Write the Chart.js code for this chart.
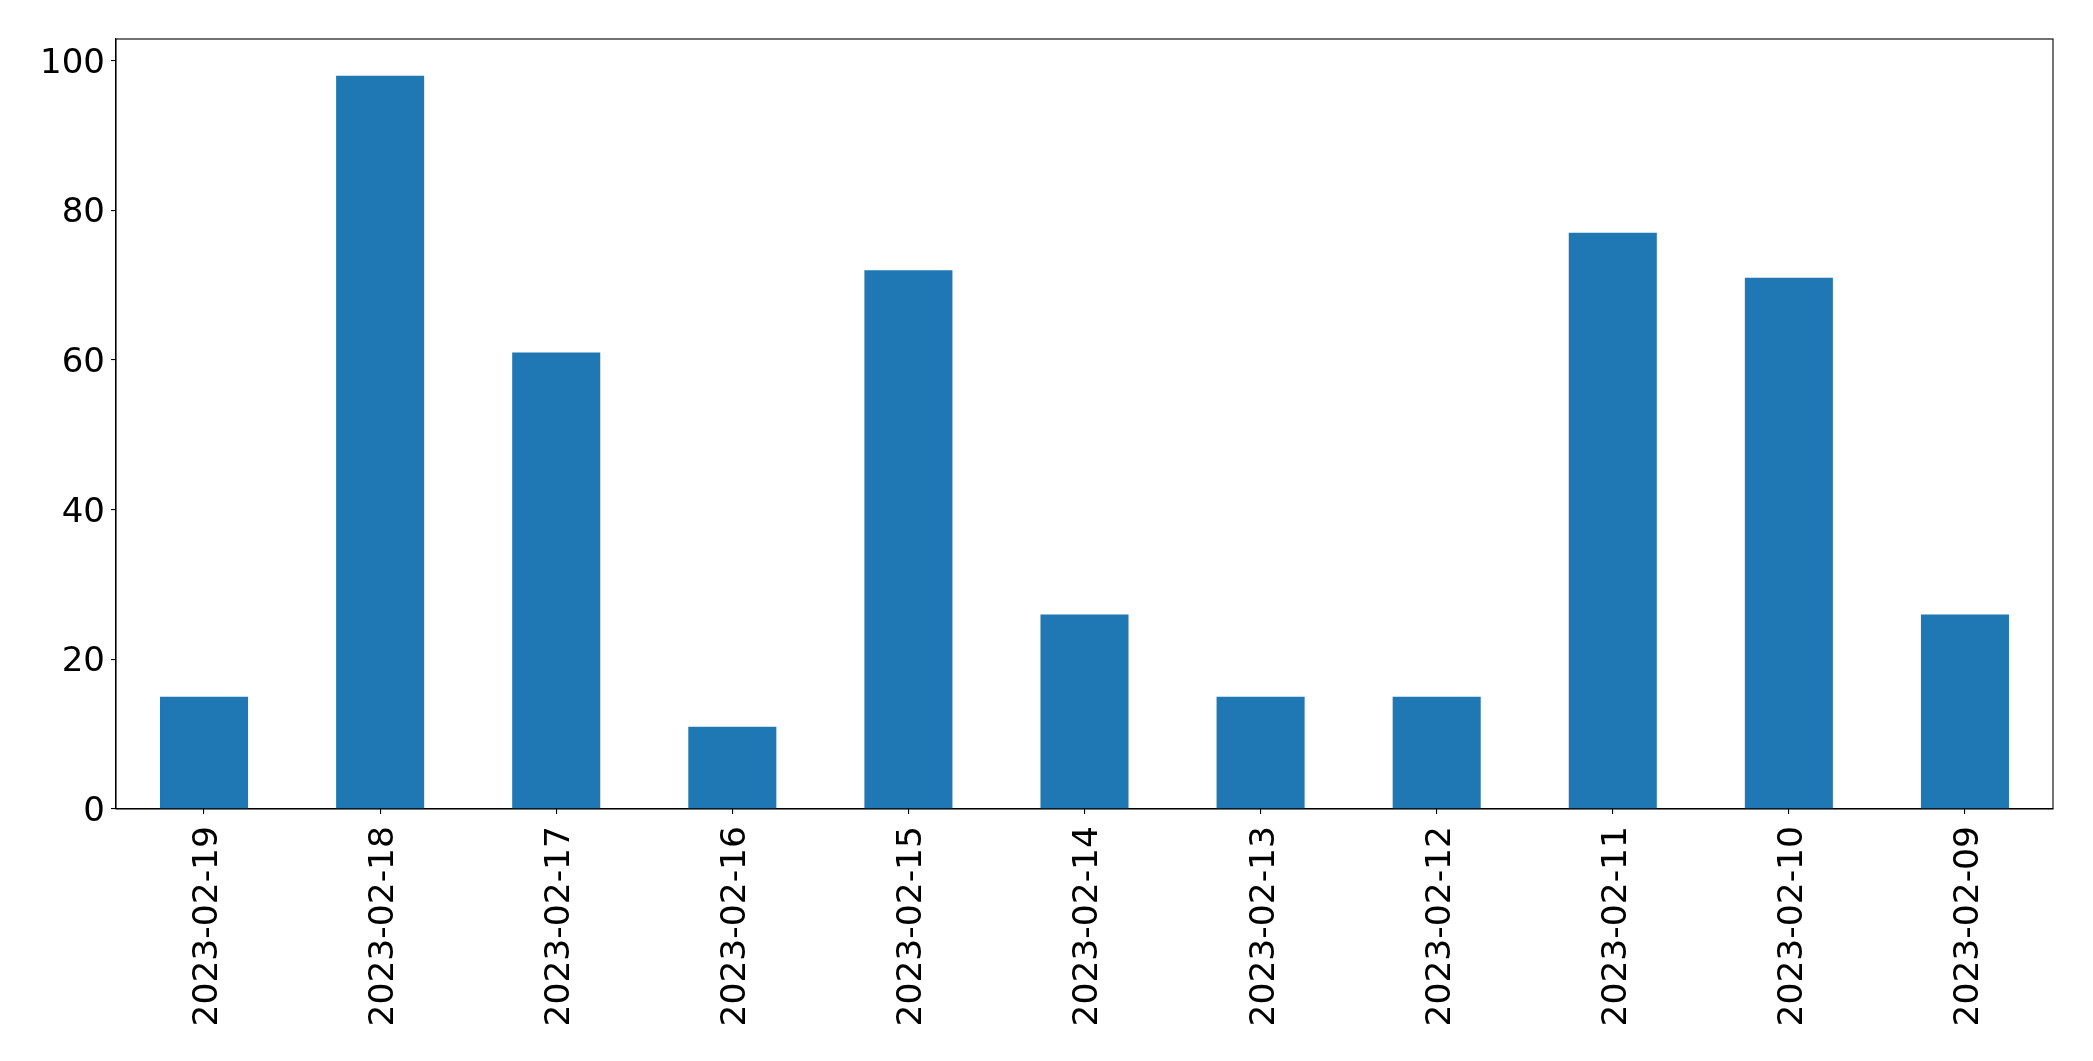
<!DOCTYPE html>
<html>
<head>
<meta charset="utf-8">
<script src="https://cdn.jsdelivr.net/npm/chart.js@4.4.1/dist/chart.umd.min.js"></script>
<style>
  html, body { margin: 0; padding: 0; background: #fff; }
  #wrap { width: 2093px; height: 1061px; }
</style>
</head>
<body>
<div id="wrap"><canvas id="chart"></canvas></div>
<script>
// data
const dates = [
    "2023-02-19", "2023-02-18", "2023-02-17", "2023-02-16", "2023-02-15", "2023-02-14",
    "2023-02-13", "2023-02-12", "2023-02-11", "2023-02-10", "2023-02-09"
];
const counts = [15, 98, 61, 11, 72, 26, 15, 15, 77, 71, 26];
const yTicks = [0, 20, 40, 60, 80, 100];

const FONT = "'DejaVu Sans', sans-serif";

// top + right spines (matplotlib frame)
const frame = {
    id: "frame",
    afterDraw(chart) {
        const { ctx, chartArea: a } = chart;
        ctx.save();
        ctx.strokeStyle = "#000";
        ctx.lineWidth = 1.1;
        ctx.strokeRect(a.left, a.top, a.right - a.left, a.bottom - a.top);
        ctx.restore();
    },
};

new Chart(document.getElementById("chart"), {
    type: "bar",
    data: {
        labels: dates,
        datasets: [{
            data: counts,
            backgroundColor: "#1f77b4",
            borderWidth: 0,
            barPercentage: 0.5,
            categoryPercentage: 1.0,
        }],
    },
    options: {
        responsive: true,
        maintainAspectRatio: false,
        animation: false,
        layout: { padding: { top: 39, right: 40, left: 0, bottom: 0 } },
        plugins: { legend: { display: false }, tooltip: { enabled: false } },
        scales: {
            x: {
                offset: true,
                grid: {
                    offset: false,
                    drawOnChartArea: false,
                    drawTicks: true,
                    tickLength: 5,
                    color: "#000",
                    lineWidth: 1.1,
                },
                border: { color: "#000", width: 1.1 },
                ticks: {
                    color: "#000",
                    font: { family: FONT, size: 34.5 },
                    minRotation: 90,
                    maxRotation: 90,
                    autoSkip: false,
                    padding: 12,
                    labelOffset: 4,
                },
                afterFit(scale) { scale.height = 1061 - 809; },
            },
            y: {
                min: 0,
                max: 102.9,
                grid: { drawOnChartArea: false, drawTicks: true, tickLength: 5, color: "#000", lineWidth: 1.1 },
                border: { color: "#000", width: 1.1 },
                ticks: {
                    color: "#000",
                    font: { family: FONT, size: 34 },
                    padding: 6,
                    labelOffset: 3,
                    includeBounds: false,
                },
                afterBuildTicks(scale) { scale.ticks = yTicks.map((v) => ({ value: v })); },
                afterFit(scale) { scale.width = 116; },
            },
        },
    },
    plugins: [frame],
});
</script>
</body>
</html>
